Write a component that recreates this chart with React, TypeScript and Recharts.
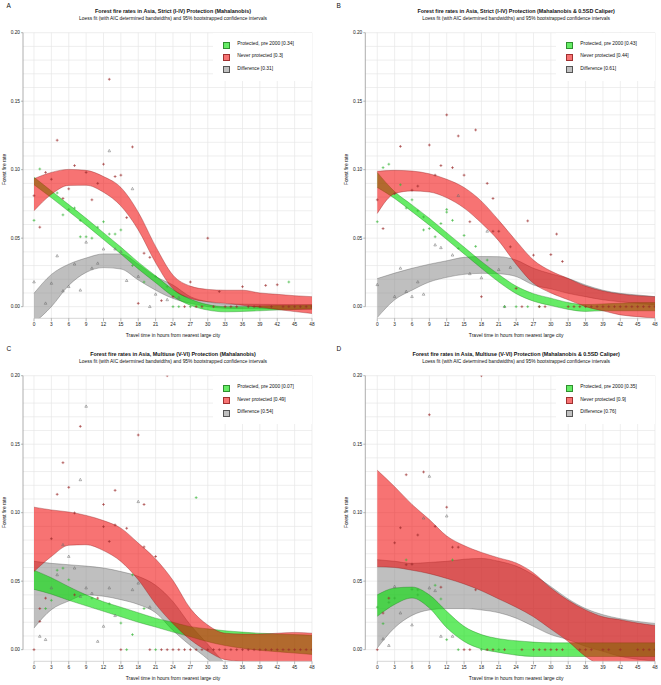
import React from 'react';
import { ComposedChart, Area, Scatter, XAxis, YAxis, CartesianGrid, ReferenceLine } from 'recharts';

const hours = [0, 3, 6, 9, 12, 15, 18, 21, 24, 27, 30, 33, 36, 39, 42, 45, 48];
const xTicks = [0, 3, 6, 9, 12, 15, 18, 21, 24, 27, 30, 33, 36, 39, 42, 45, 48];
const yTicks = [0, 0.05, 0.1, 0.15, 0.2];
const gridY = [0, 0.01, 0.02, 0.03, 0.04, 0.05, 0.06, 0.07, 0.08, 0.09, 0.1, 0.11, 0.12, 0.13, 0.14, 0.15, 0.16, 0.17, 0.18, 0.19, 0.2];
const seriesNames = ['Protected, pre 2000', 'Never protected', 'Difference'];
const subtitle = 'Loess fit (with AIC determined bandwidths) and 95% bootstrapped confidence intervals';

// ---------- Panel A ----------
const aTitle = 'Forest fire rates in Asia, Strict (I-IV) Protection (Mahalanobis)';
const aStats = ['0.34', '0.3', '0.31'];
const aRedHi = [0.0934, 0.098, 0.1002, 0.0995, 0.095, 0.087, 0.069, 0.044, 0.023, 0.015, 0.0126, 0.012, 0.012, 0.010, 0.009, 0.008, 0.0073];
const aRedLo = [0.070, 0.082, 0.0885, 0.0886, 0.0835, 0.0735, 0.056, 0.032, 0.013, 0.006, 0.0036, 0.0024, 0.001, -0.0005, -0.002, -0.0036, -0.005];
const aGrnHi = [0.0945, 0.0845, 0.0745, 0.0645, 0.054, 0.0435, 0.0325, 0.0225, 0.0125, 0.0055, 0.0015, 0, 0, 0.0005, 0.0008, 0.001, 0.0012];
const aGrnLo = [0.089, 0.0795, 0.0695, 0.0595, 0.049, 0.0385, 0.0275, 0.0175, 0.0075, 0.001, -0.0025, -0.0038, -0.0035, -0.003, -0.0025, -0.002, -0.0015];
const aGryHi = [0.0097, 0.0235, 0.031, 0.0355, 0.0385, 0.0385, 0.031, 0.022, 0.0158, 0.0073, 0.0036, 0.002, 0.0018, 0.0017, 0.0016, 0.0015, 0.0015];
const aGryLo = [-0.012, 0.0, 0.0155, 0.025, 0.0285, 0.0275, 0.0195, 0.012, 0.006, 0.0024, 0, -0.0012, -0.0014, -0.0016, -0.0018, -0.002, -0.002];
const aRedPts = [[0, 0.081], [1, 0.058], [2, 0.098], [3, 0.093], [4, 0.1215], [5, 0.079], [6, 0.086], [7, 0.103], [9, 0.098], [10, 0.078], [11, 0.09], [12, 0.104], [13, 0.166], [14, 0.095], [15, 0.096], [16, 0.065], [17, 0.1166], [18, 0.0024], [19, 0.039], [20, 0.036], [22, 0.0044], [24, 0.0073], [26, 0], [27, 0.018], [28, 0], [29, 0], [30, 0.05], [31, 0], [32, 0.011], [33, 0], [34, 0], [35, 0], [36, 0.0146], [37, 0], [38, 0], [39, 0], [40, 0.0155], [41, 0], [42, 0.016], [43, 0], [44, 0], [45, 0], [46, 0], [47, 0], [48, 0]];
const aGrnPts = [[0, 0.063], [1, 0.1005], [4, 0.083], [5, 0.067], [6, 0.071], [7, 0.072], [8, 0.063], [8, 0.051], [9, 0.051], [10, 0.05], [11, 0.058], [12, 0.062], [13, 0.053], [14, 0.053], [15, 0.056], [17, 0.03], [19, 0.018], [21, 0.022], [23, 0.0146], [24, 0], [25, 0], [27, 0], [44, 0.018]];
const aGryPts = [[0, 0.018], [2, 0.0024], [3, 0.017], [4, 0.037], [5, 0.0114], [6, 0.0146], [7, 0.031], [8, 0.012], [9, 0.047], [10, 0.028], [11, 0.0316], [12, 0.042], [13, 0.1137], [14, 0.042], [15, 0.04], [16, 0.019], [17, 0.086], [18, 0.022], [20, 0], [21, 0.009], [23, 0.005], [25, 0.0065]];

// ---------- Panel B ----------
const bTitle = 'Forest fire rates in Asia, Strict (I-IV) Protection (Mahalanobis & 0.5SD Caliper)';
const bStats = ['0.43', '0.44', '0.61'];
const bRedHi = [0.0988, 0.0995, 0.099, 0.097, 0.093, 0.087, 0.077, 0.063, 0.048, 0.034, 0.026, 0.0206, 0.015, 0.0114, 0.0092, 0.008, 0.0073];
const bRedLo = [0.068, 0.0825, 0.0845, 0.0837, 0.0795, 0.072, 0.061, 0.048, 0.031, 0.017, 0.01, 0.005, 0, -0.003, -0.006, -0.0073, -0.0085];
const bGrnHi = [0.098, 0.084, 0.0743, 0.0645, 0.054, 0.0435, 0.033, 0.0235, 0.015, 0.0095, 0.0062, 0.003, 0.0015, 0.002, 0.0025, 0.003, 0.003];
const bGrnLo = [0.087, 0.079, 0.0693, 0.0595, 0.049, 0.0385, 0.028, 0.018, 0.0095, 0.004, 0.0008, -0.002, -0.0035, -0.003, -0.003, -0.003, -0.003];
const bGryHi = [0.0205, 0.0245, 0.028, 0.031, 0.0335, 0.036, 0.0366, 0.0365, 0.034, 0.028, 0.024, 0.0206, 0.0158, 0.012, 0.0097, 0.0085, 0.0073];
const bGryLo = [-0.008, 0.005, 0.012, 0.018, 0.0214, 0.0236, 0.0243, 0.024, 0.022, 0.0158, 0.013, 0.0097, 0.0073, 0.005, 0.0036, 0.0024, 0.0012];
const bRedPts = [[0, 0.078], [1, 0.057], [3, 0.0825], [4, 0.117], [6, 0.085], [7, 0.088], [9, 0.118], [10, 0.096], [11, 0.103], [12, 0.14], [13, 0.1015], [14, 0.1246], [15, 0.096], [16, 0.062], [17, 0.129], [18, 0.0073], [19, 0.09], [20, 0.079], [20, 0.055], [21, 0.055], [23, 0.0437], [24, 0.0133], [25, 0], [26, 0.0626], [27, 0.0376], [28, 0], [29, 0], [30, 0.038], [31, 0.053], [32, 0.033], [33, 0], [34, 0], [35, 0], [36, 0], [37, 0], [38, 0], [39, 0], [40, 0], [41, 0], [42, 0], [43, 0], [44, 0], [45, 0], [46, 0], [47, 0], [48, 0]];
const bGrnPts = [[0, 0.062], [1, 0.1015], [2, 0.104], [4, 0.089], [5, 0.072], [6, 0.078], [7, 0.07], [8, 0.0655], [8, 0.056], [9, 0.057], [10, 0.051], [11, 0.0607], [12, 0.071], [12, 0.069], [13, 0.063], [14, 0.0425], [15, 0.052], [17, 0.044], [19, 0.034], [22, 0], [24, 0], [26, 0], [28, 0]];
const bGryPts = [[0, 0.016], [3, 0.0073], [4, 0.028], [5, 0.011], [6, 0.0073], [7, 0.018], [8, 0.009], [10, 0.045], [11, 0.043], [13, 0.0376], [14, 0.081], [16, 0.024], [18, 0.021], [19, 0.055], [21, 0.027], [22, 0], [23, 0.0286]];

// ---------- Panel C ----------
const cTitle = 'Forest fire rates in Asia, Multiuse (V-VI) Protection (Mahalanobis)';
const cStats = ['0.07', '0.49', '0.54'];
const cRedHi = [0.104, 0.102, 0.1005, 0.098, 0.0942, 0.0887, 0.0778, 0.0662, 0.0505, 0.030, 0.018, 0.012, 0.0114, 0.0114, 0.012, 0.0126, 0.012];
const cRedLo = [0.057, 0.068, 0.0762, 0.0766, 0.0723, 0.0644, 0.051, 0.0333, 0.019, 0.0073, -0.0012, -0.0073, -0.0085, -0.009, -0.009, -0.009, -0.009];
const cGrnHi = [0.058, 0.0525, 0.046, 0.040, 0.035, 0.031, 0.027, 0.023, 0.020, 0.0168, 0.0152, 0.0138, 0.0128, 0.012, 0.0115, 0.011, 0.0105];
const cGrnLo = [0.044, 0.0405, 0.036, 0.032, 0.028, 0.024, 0.020, 0.0165, 0.0128, 0.0094, 0.0058, 0.003, 0.001, -0.0005, -0.0015, -0.0025, -0.0035];
const cGryHi = [0.0645, 0.063, 0.062, 0.061, 0.0596, 0.057, 0.0535, 0.047, 0.035, 0.018, 0.004, -0.01, -0.02, -0.03, -0.04, -0.05, -0.06];
const cGryLo = [0.0158, 0.0292, 0.0355, 0.040, 0.039, 0.0365, 0.033, 0.027, 0.014, 0.003, -0.007, -0.02, -0.03, -0.04, -0.05, -0.06, -0.07];
const cRedPts = [[0, 0], [1, 0.0206], [1, 0.03], [2, 0.0376], [3, 0.081], [4, 0.1134], [5, 0.1365], [6, 0.1185], [7, 0.0998], [7, 0.04], [8, 0.163], [11, 0.0376], [12, 0.106], [12, 0.0898], [13, 0.079], [14, 0.1163], [14, 0.091], [15, 0], [16, 0.0886], [18, 0.1567], [19, 0.106], [19, 0.075], [20, 0], [21, 0.068], [22, 0], [23, 0.2], [23, 0], [24, 0], [25, 0], [26, 0], [27, 0], [28, 0], [29, 0], [30, 0], [31, 0], [32, 0], [33, 0], [34, 0], [35, 0], [36, 0], [37, 0], [38, 0], [39, 0], [40, 0], [41, 0], [42, 0], [43, 0], [44, 0], [45, 0], [46, 0], [47, 0], [48, 0]];
const cGrnPts = [[2, 0.03], [3, 0.036], [4, 0.058], [5, 0.0595], [6, 0.051], [10, 0.0376], [13, 0.0335], [15, 0.0194], [16, 0], [17, 0.0546], [17, 0.011], [19, 0.03], [21, 0], [28, 0.111]];
const cGryPts = [[1, 0.0097], [2, 0.0073], [3, 0.045], [4, 0.0546], [5, 0.0765], [6, 0.068], [7, 0.0595], [8, 0.124], [8, 0.0388], [9, 0.1776], [9, 0.045], [10, 0.041], [11, 0.006], [12, 0.017], [13, 0.045], [14, 0.0248], [17, 0.0437], [18, 0.108], [18, 0.0485], [20, 0.031]];

// ---------- Panel D ----------
const dTitle = 'Forest fire rates in Asia, Multiuse (V-VI) Protection (Mahalanobis & 0.5SD Caliper)';
const dStats = ['0.35', '0.9', '0.76'];
const dRedHi = [0.131, 0.119, 0.106, 0.095, 0.083, 0.076, 0.071, 0.067, 0.0633, 0.056, 0.045, 0.036, 0.029, 0.024, 0.0218, 0.0194, 0.0177];
const dRedLo = [0.0605, 0.060, 0.058, 0.0555, 0.052, 0.048, 0.043, 0.037, 0.031, 0.024, 0.015, 0.006, -0.005, -0.012, -0.015, -0.017, -0.018];
const dGrnHi = [0.040, 0.045, 0.0457, 0.040, 0.028, 0.017, 0.011, 0.008, 0.0065, 0.0055, 0.005, 0.005, 0.005, 0.005, 0.005, 0.005, 0.005];
const dGrnLo = [0.0243, 0.033, 0.0377, 0.0304, 0.016, 0.006, 0.0005, -0.002, -0.004, -0.005, -0.005, -0.005, -0.005, -0.005, -0.005, -0.005, -0.005];
const dGryHi = [0.0657, 0.0645, 0.063, 0.0637, 0.0645, 0.066, 0.0666, 0.0645, 0.061, 0.0545, 0.046, 0.037, 0.030, 0.0255, 0.0226, 0.0206, 0.019];
const dGryLo = [0.0012, 0.016, 0.025, 0.029, 0.030, 0.030, 0.029, 0.027, 0.023, 0.017, 0.011, 0.0073, 0.0024, -0.0012, -0.005, -0.007, -0.0085];
const dRedPts = [[0, 0], [1, 0.0267], [2, 0.0376], [3, 0.078], [4, 0.089], [5, 0.1277], [5, 0.062], [6, 0.0624], [7, 0.0837], [8, 0.1297], [9, 0.1715], [10, 0.09], [11, 0.0456], [12, 0.104], [13, 0.0748], [14, 0.0748], [15, 0], [16, 0], [17, 0.0437], [18, 0.2], [19, 0], [20, 0], [22, 0], [25, 0], [27, 0], [28, 0], [29, 0], [30, 0], [31, 0], [32, 0], [35, 0], [36, 0], [37, 0], [39, 0], [40, 0], [42, 0], [45, 0], [46, 0], [47, 0], [48, 0]];
const dGrnPts = [[0, 0.031], [1, 0.019], [2, 0.0345], [3, 0.0376], [5, 0.0655], [6, 0.044], [7, 0.0437], [7, 0.04], [10, 0.047], [11, 0.037], [12, 0.0073], [13, 0.0655], [14, 0], [18, 0], [21, 0]];
const dGryPts = [[1, 0.0078], [2, 0.003], [3, 0.046], [4, 0.0267], [6, 0.018], [8, 0.096], [9, 0.1265], [9, 0.045], [10, 0.043], [11, 0.0097], [12, 0.0975], [13, 0.0097]];

// ---------- styling ----------
const FONT = "'Liberation Sans', Arial, Helvetica, sans-serif";
const GRN_FILL = '#00dd00';
const RED_FILL = '#f00000';
const GRY_FILL = '#808080';

const toRows = (gLo, gHi, rLo, rHi, dLo, dHi) =>
  hours.map((h, i) => ({ h, g: [gLo[i], gHi[i]], r: [rLo[i], rHi[i]], d: [dLo[i], dHi[i]] }));
const toPts = (arr) => arr.map(([h, v]) => ({ h, v }));

const plusShape = (color) => (p) => {
  const { cx, cy } = p;
  if (cx == null || cy == null) return <g />;
  return <path d={`M${cx - 1.4},${cy}h2.8M${cx},${cy - 1.4}v2.8`} stroke={color} strokeWidth={0.6} fill="none" />;
};
const triShape = (color) => (p) => {
  const { cx, cy } = p;
  if (cx == null || cy == null) return <g />;
  return <path d={`M${cx},${cy - 1.5}L${cx + 1.3},${cy + 0.9}L${cx - 1.3},${cy + 0.9}Z`} stroke={color} strokeWidth={0.5} fill="none" />;
};

const txt = (extra) => ({ position: 'absolute', fontFamily: FONT, lineHeight: 1, whiteSpace: 'nowrap', color: '#111', ...extra });

function Panel({ left, top, width, axisW, rightM, xmin, letter, title, stats, rows, redPts, grnPts, gryPts }) {
  const H = 340;
  const mTop = 32.7;
  const mBottom = 9.7;
  const xAxisH = 12;
  const plotL = axisW;
  const plotR = width - rightM;
  const pxPerH = (plotR - plotL) / (48 - xmin);
  const x0 = plotL + (0 - xmin) * pxPerH;
  const x48 = plotR;
  const cx = (x0 + x48) / 2;
  const legendBoxes = [
    { fill: 'rgb(102,236,102)', border: '#2f8f2f' },
    { fill: 'rgb(247,115,115)', border: '#a03030' },
    { fill: 'rgb(192,192,192)', border: '#555' },
  ];
  return (
    <div style={{ position: 'absolute', left, top, width, height: H }}>
      <ComposedChart width={width} height={H} data={rows} margin={{ top: mTop, right: rightM, bottom: mBottom, left: 0 }}>
        <CartesianGrid stroke="#e6e6e6" strokeWidth={0.7} horizontalValues={gridY} verticalValues={xTicks} />
        <XAxis
          type="number"
          dataKey="h"
          domain={[xmin, 48]}
          allowDataOverflow
          ticks={xTicks}
          interval={0}
          height={xAxisH}
          axisLine={false}
          tickLine={{ stroke: '#888', strokeWidth: 0.6 }}
          tickSize={3}
          tickMargin={1}
          tick={{ fontSize: 4.8, fill: '#222', fontFamily: FONT }}
        />
        <YAxis
          type="number"
          domain={[-0.0085, 0.2]}
          allowDataOverflow
          ticks={yTicks}
          interval={0}
          width={axisW}
          axisLine={false}
          tickLine={{ stroke: '#888', strokeWidth: 0.6 }}
          tickSize={2}
          tickMargin={1}
          tickFormatter={(v) => v.toFixed(2)}
          tick={{ fontSize: 4.8, fill: '#222', fontFamily: FONT }}
        />
        <ReferenceLine segment={[{ x: xmin, y: 0 }, { x: xmin, y: 0.2 }]} stroke="#999" strokeWidth={0.8} ifOverflow="visible" />
        <ReferenceLine segment={[{ x: 0, y: -0.0085 }, { x: 48, y: -0.0085 }]} stroke="#bbb" strokeWidth={0.6} ifOverflow="visible" />
        <Area type="monotone" dataKey="d" fill={GRY_FILL} fillOpacity={0.5} stroke="#555" strokeOpacity={0.6} strokeWidth={0.6} dot={false} activeDot={false} isAnimationActive={false} />
        <Area type="monotone" dataKey="g" fill={GRN_FILL} fillOpacity={0.6} stroke="#1a7a1a" strokeOpacity={0.6} strokeWidth={0.6} dot={false} activeDot={false} isAnimationActive={false} />
        <Area type="monotone" dataKey="r" fill={RED_FILL} fillOpacity={0.55} stroke="#8a1a1a" strokeOpacity={0.6} strokeWidth={0.6} dot={false} activeDot={false} isAnimationActive={false} />
        <Scatter data={gryPts} dataKey="v" shape={triShape('#6a6a6a')} isAnimationActive={false} />
        <Scatter data={grnPts} dataKey="v" shape={plusShape('#36b536')} isAnimationActive={false} />
        <Scatter data={redPts} dataKey="v" shape={plusShape('#9a2a2a')} isAnimationActive={false} />
      </ComposedChart>

      <div style={txt({ left: 6.5, top: 3, fontSize: 6.5 })}>{letter}</div>
      <div style={txt({ left: cx - 200, width: 400, textAlign: 'center', top: 9, fontSize: 5.4, fontWeight: 'bold' })}>{title}</div>
      <div style={txt({ left: cx - 200, width: 400, textAlign: 'center', top: 17, fontSize: 4.9 })}>{subtitle}</div>
      <div style={txt({ left: cx - 150, width: 300, textAlign: 'center', top: 333.2, fontSize: 5.0 })}>Travel time in hours from nearest large city</div>
      <div style={txt({ left: plotL - 18 - 30, width: 60, textAlign: 'center', top: 167, fontSize: 4.8, transform: 'rotate(-90deg)' })}>Forest fire rate</div>

      <div style={{ position: 'absolute', left: plotR - 99, top: mTop, width: 99, height: 48, background: '#fff' }}>
        {seriesNames.map((n, i) => (
          <div key={n}>
            <div style={{ position: 'absolute', left: 9.7, top: 9 + i * 12.3, width: 5, height: 5, background: legendBoxes[i].fill, border: `0.6px solid ${legendBoxes[i].border}` }} />
            <div style={txt({ left: 24.3, top: 9.3 + i * 12.3, fontSize: 4.9 })}>{`${n} [${stats[i]}]`}</div>
          </div>
        ))}
      </div>
    </div>
  );
}

export default function App() {
  return (
    <div style={{ position: 'absolute', left: 0, top: 0, width: 661, height: 685, background: '#fff', overflow: 'hidden' }}>
      <Panel left={0} top={0} width={330} axisW={23} rightM={18} xmin={-1.9} letter="A" title={aTitle} stats={aStats}
        rows={toRows(aGrnLo, aGrnHi, aRedLo, aRedHi, aGryLo, aGryHi)} redPts={toPts(aRedPts)} grnPts={toPts(aGrnPts)} gryPts={toPts(aGryPts)} />
      <Panel left={330} top={0} width={331} axisW={35.3} rightM={6} xmin={-2.07} letter="B" title={bTitle} stats={bStats}
        rows={toRows(bGrnLo, bGrnHi, bRedLo, bRedHi, bGryLo, bGryHi)} redPts={toPts(bRedPts)} grnPts={toPts(bGrnPts)} gryPts={toPts(bGryPts)} />
      <Panel left={0} top={343.3} width={330} axisW={23} rightM={18} xmin={-1.9} letter="C" title={cTitle} stats={cStats}
        rows={toRows(cGrnLo, cGrnHi, cRedLo, cRedHi, cGryLo, cGryHi)} redPts={toPts(cRedPts)} grnPts={toPts(cGrnPts)} gryPts={toPts(cGryPts)} />
      <Panel left={330} top={343.3} width={331} axisW={35.3} rightM={6} xmin={-2.07} letter="D" title={dTitle} stats={dStats}
        rows={toRows(dGrnLo, dGrnHi, dRedLo, dRedHi, dGryLo, dGryHi)} redPts={toPts(dRedPts)} grnPts={toPts(dGrnPts)} gryPts={toPts(dGryPts)} />
    </div>
  );
}
